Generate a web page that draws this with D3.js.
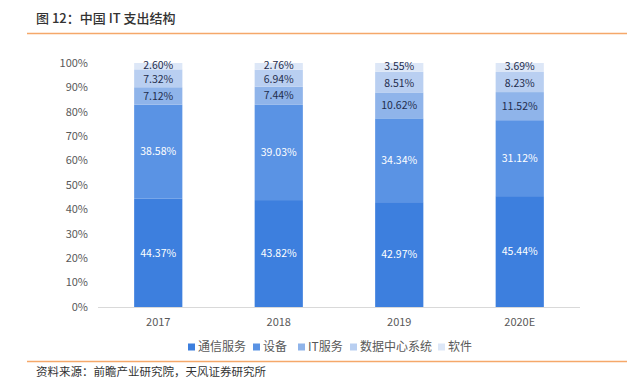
<!DOCTYPE html>
<html><head><meta charset="utf-8">
<script src="https://cdn.jsdelivr.net/npm/d3@7"></script>
<style>body{margin:0;background:#fff}svg{display:block}text{font-family:"Noto Sans CJK SC","Noto Sans",sans-serif}</style>
</head><body>
<script>
const categories = ["2017", "2018", "2019", "2020E"];
const seriesNames = ["通信服务", "设备", "IT服务", "数据中心系统", "软件"];
const telecom = [44.37, 43.82, 42.97, 45.44];
const equipment = [38.58, 39.03, 34.34, 31.12];
const itServices = [7.12, 7.44, 10.62, 11.52];
const dataCenter = [7.32, 6.94, 8.51, 8.23];
const software = [2.60, 2.76, 3.55, 3.69];
const yTicks = [0, 10, 20, 30, 40, 50, 60, 70, 80, 90, 100];
const colors = ["#3d7fde", "#5a93e4", "#8fb4ea", "#b9cff1", "#dde7f7"];
const labelColors = ["#ffffff", "#ffffff", "#1f2d4d", "#1f2d4d", "#1f2d4d"];

const W = 641, H = 379;
const svg = d3.select("body").append("svg").attr("width", W).attr("height", H);
const seriesVals = [telecom, equipment, itServices, dataCenter, software];
const rows = categories.map((c, i) => { const o = {cat: c}; seriesNames.forEach((s, j) => o[s] = seriesVals[j][i]); return o; });
const stack = d3.stack().keys(seriesNames)(rows);

const x = d3.scaleBand().domain(categories).range([98, 580]).paddingInner(0.6).paddingOuter(0.3);
const y = d3.scaleLinear().domain([0, 100]).range([307, 63]);

// title
svg.append("text").attr("x", 36).attr("y", 23).attr("font-size", 13).attr("font-weight", 500).attr("fill", "#333").text("图 12：中国 IT 支出结构");
svg.append("line").attr("x1", 27).attr("x2", 627).attr("y1", 33.5).attr("y2", 33.5).attr("stroke", "#f5a86a").attr("stroke-width", 1.5);

// y axis labels
svg.append("g").selectAll("text").data(yTicks).join("text")
  .attr("x", 88).attr("y", d => y(d)).attr("dy", "0.35em").attr("text-anchor", "end")
  .attr("font-size", 11).attr("fill", "#595959").text(d => d + "%");

// bars
const g = svg.append("g");
stack.forEach((layer, j) => {
  g.selectAll(null).data(layer).join("rect")
    .attr("x", d => x(d.data.cat)).attr("width", x.bandwidth())
    .attr("y", d => y(d[1])).attr("height", d => y(d[0]) - y(d[1]))
    .attr("fill", colors[j]);
  g.selectAll(null).data(layer).join("text")
    .attr("x", d => x(d.data.cat) + x.bandwidth() / 2)
    .attr("y", d => (y(d[0]) + y(d[1])) / 2 + (j === 4 ? -1.2 : j === 3 ? 1 : 0)).attr("dy", "0.35em")
    .attr("text-anchor", "middle").attr("font-size", 10.5).attr("fill", labelColors[j])
    .text(d => (d[1] - d[0]).toFixed(2) + "%");
});

// x axis
svg.append("line").attr("x1", 98).attr("x2", 580).attr("y1", 307.5).attr("y2", 307.5).attr("stroke", "#d9d9d9");
svg.append("g").selectAll("text").data(categories).join("text")
  .attr("x", d => x(d) + x.bandwidth() / 2).attr("y", 322).attr("dy", "0.35em")
  .attr("text-anchor", "middle").attr("font-size", 11).attr("fill", "#595959").text(d => d);

// legend
const legX = [188, 253, 298, 350, 438];
const leg = svg.append("g").selectAll("g").data(seriesNames).join("g").attr("transform", (d, i) => `translate(${legX[i]},347)`);
leg.append("rect").attr("x", 0).attr("y", -3.5).attr("width", 7).attr("height", 7).attr("fill", (d, i) => colors[i]);
leg.append("text").attr("x", 10).attr("y", 0).attr("dy", "0.35em").attr("font-size", 12).attr("fill", "#595959").text(d => d);

svg.append("line").attr("x1", 27).attr("x2", 627).attr("y1", 361.5).attr("y2", 361.5).attr("stroke", "#f5a86a").attr("stroke-width", 1.5);
svg.append("text").attr("x", 36).attr("y", 376).attr("font-size", 11.5).attr("fill", "#333").text("资料来源：前瞻产业研究院，天风证券研究所");
</script>
</body></html>
